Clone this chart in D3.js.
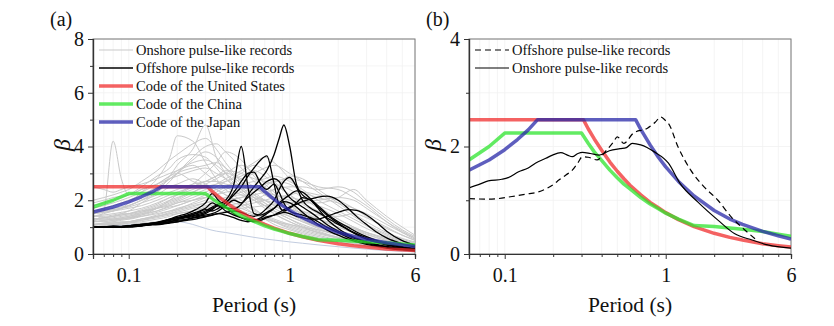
<!DOCTYPE html>
<html>
<head>
<meta charset="utf-8">
<script src="https://cdn.jsdelivr.net/npm/d3@7"></script>
<style>
  html, body { margin: 0; padding: 0; background: #fff; }
  svg { display: block; font-family: "Liberation Serif", "Times New Roman", serif; }
</style>
</head>
<body>
<svg id="chart" width="834" height="326"></svg>
<script>
// ---- tick values ----
const xMajorTicks = [0.1, 1, 6];
const xMinorTicks = [0.07, 0.08, 0.09, 0.2, 0.3, 0.4, 0.5, 0.6, 0.7, 0.8, 0.9, 2, 3, 4, 5];
const yMajorA = [0, 2, 4, 6, 8];
const yMinorA = [1, 3, 5, 7];
const yMajorB = [0, 2, 4];
const yMinorB = [1, 3];

// ---- code spectra ----
const usPeriods = [0.06, 0.308, 0.33, 0.36, 0.4, 0.45, 0.5, 0.55, 0.6, 0.7, 0.8, 0.9, 1, 1.2, 1.5, 2, 2.5, 3, 4, 5, 6];
const usValues = [2.5, 2.5, 2.33, 2.14, 1.93, 1.71, 1.54, 1.4, 1.28, 1.1, 0.96, 0.86, 0.77, 0.64, 0.51, 0.385, 0.31, 0.26, 0.19, 0.155, 0.13];
const cnPeriods = [0.06, 0.08, 0.1, 0.3, 0.33, 0.36, 0.4, 0.45, 0.5, 0.55, 0.6, 0.7, 0.8, 0.9, 1, 1.2, 1.5, 2, 3, 4, 5, 6];
const cnValues = [1.75, 2.0, 2.25, 2.25, 2.06, 1.9, 1.74, 1.56, 1.42, 1.3, 1.21, 1.05, 0.93, 0.84, 0.76, 0.65, 0.53, 0.51, 0.46, 0.42, 0.37, 0.33];
const jpPeriods = [0.06, 0.08, 0.1, 0.12, 0.14, 0.16, 0.65, 0.7, 0.8, 0.9, 1, 1.2, 1.5, 2, 2.5, 3, 4, 5, 6];
const jpValues = [1.56, 1.75, 1.94, 2.13, 2.31, 2.5, 2.5, 2.32, 2.03, 1.8, 1.62, 1.35, 1.08, 0.81, 0.65, 0.55, 0.42, 0.34, 0.28];

// ---- (a) offshore pulse-like records ----
const offPeriods = [0.06, 0.07, 0.08, 0.09, 0.1, 0.12, 0.14, 0.16, 0.18, 0.2, 0.23, 0.26, 0.3, 0.33, 0.36, 0.4, 0.45, 0.5, 0.55, 0.6, 0.66, 0.72, 0.8, 0.86, 0.92, 1.0, 1.1, 1.2, 1.35, 1.5, 1.7, 2, 2.3, 2.6, 3, 3.5, 4, 5, 6];
const offRecords = [
  [1.0, 1.0, 1.0, 1.02, 1.03, 1.08, 1.12, 1.2, 1.25, 1.3, 1.38, 1.45, 1.55, 1.7, 1.8, 1.72, 1.68, 1.85, 2.2, 2.5, 2.8, 3.1, 3.7, 4.3, 4.8, 4.0, 2.6, 2.2, 2.0, 1.75, 1.45, 1.15, 0.92, 0.76, 0.6, 0.45, 0.36, 0.25, 0.18],
  [1.0, 1.0, 1.02, 1.0, 1.05, 1.1, 1.15, 1.18, 1.25, 1.32, 1.4, 1.5, 1.6, 1.75, 1.85, 2.0, 2.6, 4.0, 2.5, 1.5, 1.45, 1.55, 1.7, 1.85, 1.95, 1.9, 1.75, 1.55, 1.3, 1.1, 0.9, 0.7, 0.55, 0.45, 0.36, 0.28, 0.22, 0.15, 0.11],
  [1.0, 1.02, 1.0, 1.03, 1.05, 1.08, 1.15, 1.2, 1.28, 1.35, 1.42, 1.5, 1.65, 1.6, 1.7, 1.9, 2.2, 2.5, 2.9, 3.2, 3.5, 3.65, 2.6, 1.8, 1.6, 1.7, 1.9, 2.1, 2.0, 1.7, 1.3, 0.95, 0.72, 0.58, 0.45, 0.35, 0.28, 0.2, 0.15],
  [1.0, 1.0, 1.05, 1.02, 1.05, 1.1, 1.12, 1.22, 1.3, 1.35, 1.45, 1.55, 1.7, 1.9, 1.8, 1.9, 2.3, 2.7, 3.0, 3.05, 2.6, 2.4, 2.6, 2.3, 1.9, 1.6, 1.5, 1.45, 1.35, 1.2, 1.0, 0.8, 0.62, 0.5, 0.4, 0.3, 0.24, 0.17, 0.13],
  [1.0, 1.0, 1.0, 1.0, 1.02, 1.05, 1.1, 1.15, 1.2, 1.25, 1.3, 1.38, 1.45, 1.5, 1.6, 1.8, 2.0, 1.9, 2.1, 2.3, 2.5, 2.7, 2.8, 2.7, 2.4, 2.1, 1.9, 1.75, 1.55, 1.35, 1.1, 0.85, 0.68, 0.55, 0.43, 0.33, 0.26, 0.18, 0.14],
  [1.0, 1.0, 1.0, 1.02, 1.0, 1.05, 1.1, 1.12, 1.18, 1.2, 1.28, 1.35, 1.4, 1.45, 1.5, 1.55, 1.6, 1.55, 1.45, 1.4, 1.5, 1.7, 2.0, 2.4, 2.7, 2.85, 2.5, 2.0, 1.7, 1.55, 1.35, 1.1, 0.9, 0.72, 0.55, 0.42, 0.33, 0.22, 0.16],
  [1.0, 1.0, 1.0, 1.0, 1.02, 1.05, 1.08, 1.1, 1.15, 1.2, 1.25, 1.3, 1.38, 1.45, 1.5, 1.45, 1.35, 1.25, 1.2, 1.25, 1.35, 1.5, 1.7, 1.9, 2.05, 2.2, 2.35, 2.3, 2.05, 1.8, 1.5, 1.2, 1.0, 0.82, 0.65, 0.5, 0.4, 0.27, 0.2],
  [1.0, 1.0, 1.02, 1.0, 1.05, 1.1, 1.15, 1.2, 1.3, 1.4, 1.5, 1.65, 1.9, 2.25, 2.0, 1.75, 1.5, 1.35, 1.25, 1.2, 1.25, 1.35, 1.45, 1.55, 1.65, 1.75, 1.85, 1.95, 2.05, 2.12, 2.15, 2.0, 1.7, 1.4, 1.1, 0.8, 0.6, 0.38, 0.26],
  [1.0, 1.0, 1.0, 1.02, 1.03, 1.06, 1.1, 1.15, 1.2, 1.28, 1.35, 1.42, 1.5, 1.65, 1.8, 1.6, 1.45, 1.35, 1.3, 1.28, 1.3, 1.38, 1.45, 1.5, 1.55, 1.5, 1.4, 1.35, 1.3, 1.3, 1.4, 1.55, 1.65, 1.62, 1.45, 1.15, 0.85, 0.5, 0.33]
];

// ---- (a) onshore pulse-like records ----
const onPeriods = [0.06, 0.07, 0.08, 0.09, 0.1, 0.12, 0.15, 0.18, 0.2, 0.25, 0.3, 0.35, 0.4, 0.5, 0.6, 0.7, 0.8, 1.0, 1.2, 1.5, 2, 2.5, 3, 4, 5, 6];
const onRecords = [
  [1.2, 1.6, 4.2, 2.8, 2.2, 2.4, 2.6, 2.9, 3.0, 2.7, 2.5, 2.2, 2.0, 1.8, 1.5, 1.3, 1.1, 0.9, 0.75, 0.6, 0.45, 0.35, 0.28, 0.2, 0.15, 0.12],
  [1.4, 1.5, 1.6, 1.7, 1.9, 2.3, 2.8, 3.6, 4.4, 4.2, 3.4, 2.8, 2.4, 2.0, 1.7, 1.4, 1.2, 0.95, 0.8, 0.65, 0.5, 0.4, 0.32, 0.22, 0.16, 0.12],
  [1.3, 1.35, 1.4, 1.5, 1.6, 1.9, 2.3, 2.9, 3.3, 3.9, 4.8, 3.6, 3.0, 2.4, 2.0, 1.7, 1.5, 1.2, 1.0, 0.8, 0.6, 0.45, 0.35, 0.25, 0.18, 0.14],
  [1.8, 1.9, 2.0, 2.1, 2.2, 2.5, 2.9, 3.2, 3.5, 3.7, 3.6, 3.2, 2.8, 2.3, 2.0, 1.8, 1.6, 1.3, 1.1, 0.9, 0.7, 0.55, 0.45, 0.3, 0.22, 0.17],
  [1.1, 1.15, 1.2, 1.25, 1.3, 1.45, 1.7, 2.0, 2.2, 2.6, 3.0, 3.4, 3.8, 3.5, 2.9, 2.5, 2.2, 1.8, 1.5, 1.2, 0.9, 0.7, 0.55, 0.38, 0.28, 0.22],
  [1.5, 1.6, 1.65, 1.7, 1.75, 1.9, 2.1, 2.3, 2.4, 2.6, 2.7, 2.9, 3.1, 3.0, 2.8, 2.7, 2.6, 2.4, 2.1, 1.7, 1.3, 1.0, 0.8, 0.55, 0.4, 0.3],
  [1.0, 1.05, 1.1, 1.1, 1.15, 1.25, 1.4, 1.55, 1.65, 1.9, 2.1, 2.3, 2.5, 2.8, 3.0, 3.2, 3.3, 3.0, 2.7, 2.3, 1.8, 1.4, 1.1, 0.75, 0.55, 0.42],
  [2.5, 2.4, 2.3, 2.4, 2.5, 2.6, 2.8, 3.0, 3.1, 3.3, 3.0, 2.7, 2.5, 2.2, 2.0, 1.8, 1.6, 1.4, 1.2, 1.0, 0.75, 0.6, 0.48, 0.33, 0.25, 0.2],
  [1.2, 1.25, 1.3, 1.35, 1.4, 1.5, 1.6, 1.75, 1.8, 2.0, 2.1, 2.2, 2.3, 2.4, 2.5, 2.6, 2.7, 2.8, 2.7, 2.5, 2.4, 2.1, 1.8, 1.2, 0.8, 0.55],
  [1.1, 1.1, 1.15, 1.2, 1.2, 1.3, 1.4, 1.5, 1.55, 1.7, 1.8, 1.9, 2.0, 2.1, 2.2, 2.3, 2.4, 2.5, 2.5, 2.4, 2.5, 2.3, 1.9, 1.3, 0.9, 0.65],
  [1.6, 1.7, 1.8, 1.9, 2.0, 2.2, 2.5, 2.8, 3.0, 3.2, 3.3, 3.4, 3.2, 2.7, 2.3, 2.0, 1.8, 1.5, 1.3, 1.1, 0.85, 0.65, 0.5, 0.35, 0.26, 0.2],
  [1.3, 1.35, 1.4, 1.45, 1.5, 1.6, 1.8, 2.0, 2.1, 2.3, 2.5, 2.6, 2.7, 2.9, 3.1, 2.9, 2.6, 2.2, 1.9, 1.6, 1.2, 0.95, 0.75, 0.5, 0.36, 0.28],
  [1.0, 1.0, 1.05, 1.05, 1.1, 1.15, 1.2, 1.3, 1.35, 1.45, 1.55, 1.65, 1.7, 1.8, 1.9, 2.0, 2.1, 2.2, 2.3, 2.2, 2.0, 1.7, 1.4, 1.0, 0.7, 0.5],
  [1.7, 1.8, 1.9, 2.0, 2.1, 2.3, 2.6, 2.9, 3.1, 3.4, 3.5, 3.3, 3.0, 2.5, 2.1, 1.8, 1.5, 1.2, 1.0, 0.8, 0.6, 0.45, 0.36, 0.25, 0.18, 0.14],
  [1.4, 1.45, 1.5, 1.55, 1.6, 1.7, 1.9, 2.1, 2.2, 2.4, 2.6, 2.8, 3.0, 3.3, 3.0, 2.6, 2.3, 1.9, 1.6, 1.3, 1.0, 0.8, 0.62, 0.42, 0.3, 0.24],
  [1.2, 1.2, 1.25, 1.3, 1.3, 1.4, 1.55, 1.7, 1.8, 2.0, 2.2, 2.4, 2.5, 2.6, 2.7, 2.8, 2.9, 2.7, 2.4, 2.0, 1.6, 1.3, 1.05, 0.7, 0.5, 0.4],
  [1.9, 2.0, 2.1, 2.15, 2.2, 2.4, 2.6, 2.8, 2.9, 3.1, 3.2, 3.0, 2.8, 2.4, 2.1, 1.9, 1.7, 1.4, 1.2, 0.95, 0.7, 0.55, 0.45, 0.3, 0.22, 0.18],
  [1.1, 1.1, 1.15, 1.15, 1.2, 1.3, 1.4, 1.5, 1.6, 1.75, 1.9, 2.0, 2.1, 2.3, 2.4, 2.3, 2.2, 2.0, 1.9, 1.9, 2.1, 2.4, 2.0, 1.4, 1.0, 0.7],
  [1.3, 1.3, 1.35, 1.4, 1.45, 1.55, 1.7, 1.85, 1.95, 2.2, 2.4, 2.6, 2.8, 3.1, 3.4, 3.6, 3.4, 2.8, 2.3, 1.8, 1.3, 1.0, 0.8, 0.55, 0.4, 0.3],
  [1.5, 1.55, 1.6, 1.65, 1.7, 1.8, 2.0, 2.2, 2.3, 2.5, 2.7, 2.7, 2.6, 2.5, 2.4, 2.3, 2.2, 2.1, 2.0, 1.8, 1.5, 1.2, 0.95, 0.65, 0.48, 0.38],
  [1.0, 1.0, 1.0, 1.05, 1.05, 1.1, 1.15, 1.2, 1.25, 1.3, 1.4, 1.5, 1.6, 1.7, 1.75, 1.8, 1.85, 1.9, 1.95, 2.0, 2.1, 2.0, 1.7, 1.2, 0.85, 0.6],
  [1.2, 1.25, 1.3, 1.3, 1.35, 1.4, 1.5, 1.6, 1.65, 1.8, 1.9, 2.0, 2.1, 2.2, 2.1, 2.0, 1.9, 1.7, 1.5, 1.3, 1.0, 0.8, 0.65, 0.45, 0.33, 0.26],
  [2.0, 2.1, 2.2, 2.3, 2.4, 2.7, 3.1, 3.5, 3.7, 4.1, 4.3, 3.9, 3.4, 2.7, 2.2, 1.9, 1.6, 1.3, 1.05, 0.85, 0.62, 0.48, 0.38, 0.26, 0.19, 0.15],
  [1.0, 1.02, 1.05, 1.05, 1.08, 1.1, 1.15, 1.2, 1.2, 1.1, 0.95, 0.85, 0.8, 0.7, 0.62, 0.56, 0.52, 0.45, 0.4, 0.34, 0.27, 0.22, 0.18, 0.13, 0.1, 0.08],
  [1.6, 1.65, 1.7, 1.75, 1.8, 2.0, 2.3, 2.7, 3.0, 3.6, 4.0, 4.1, 3.8, 3.2, 2.7, 2.3, 2.0, 1.6, 1.3, 1.05, 0.8, 0.62, 0.5, 0.34, 0.25, 0.2],
  [1.1, 1.12, 1.15, 1.18, 1.2, 1.25, 1.35, 1.45, 1.5, 1.6, 1.7, 1.75, 1.8, 1.9, 2.0, 2.2, 2.4, 2.9, 2.8, 2.4, 1.9, 1.5, 1.2, 0.8, 0.58, 0.45],
  [1.3, 1.35, 1.4, 1.45, 1.5, 1.65, 1.85, 2.1, 2.2, 2.5, 2.7, 2.9, 3.0, 2.8, 2.5, 2.2, 2.0, 1.7, 1.5, 1.3, 1.1, 0.95, 0.8, 0.6, 0.45, 0.35],
  [1.4, 1.4, 1.45, 1.5, 1.5, 1.6, 1.7, 1.8, 1.9, 2.0, 2.1, 2.0, 1.9, 1.7, 1.5, 1.35, 1.2, 1.0, 0.85, 0.7, 0.52, 0.4, 0.32, 0.22, 0.16, 0.13],
  [1.2, 1.22, 1.25, 1.3, 1.35, 1.45, 1.6, 1.8, 1.9, 2.1, 2.3, 2.5, 2.7, 3.0, 3.3, 3.1, 2.7, 2.2, 1.85, 1.5, 1.15, 0.9, 0.72, 0.5, 0.36, 0.28],
  [1.5, 1.55, 1.6, 1.7, 1.8, 2.0, 2.4, 2.8, 3.0, 3.5, 3.8, 3.6, 3.2, 2.6, 2.2, 2.0, 1.8, 1.5, 1.25, 1.0, 0.75, 0.58, 0.46, 0.32, 0.24, 0.19],
  [1.1, 1.15, 1.2, 1.3, 1.35, 1.5, 1.7, 1.9, 2.0, 2.3, 2.5, 2.4, 2.2, 1.9, 1.6, 1.4, 1.25, 1.05, 0.9, 0.75, 0.58, 0.46, 0.37, 0.26, 0.19, 0.15],
  [1.0, 1.05, 1.1, 1.12, 1.15, 1.2, 1.3, 1.4, 1.5, 1.6, 1.75, 1.85, 1.95, 2.1, 2.3, 2.5, 2.7, 2.6, 2.3, 2.1, 1.9, 1.7, 1.5, 1.1, 0.8, 0.6],
  [1.25, 1.3, 1.3, 1.35, 1.4, 1.55, 1.75, 1.95, 2.05, 2.3, 2.2, 2.0, 1.85, 1.6, 1.45, 1.3, 1.2, 1.1, 1.0, 0.9, 0.75, 0.6, 0.48, 0.33, 0.24, 0.19],
  [1.05, 1.1, 1.1, 1.15, 1.2, 1.3, 1.45, 1.6, 1.7, 1.85, 2.0, 2.2, 2.4, 2.6, 2.5, 2.3, 2.1, 1.8, 1.6, 1.45, 1.4, 1.5, 1.35, 0.95, 0.7, 0.52],
  [1.6, 1.6, 1.65, 1.7, 1.8, 2.0, 2.2, 2.5, 2.6, 2.8, 2.6, 2.4, 2.2, 1.9, 1.65, 1.45, 1.3, 1.1, 0.95, 0.8, 0.62, 0.5, 0.4, 0.28, 0.21, 0.17]
];

// ---- (b) mean spectra ----
const offMeanPeriods = [0.06, 0.079, 0.09, 0.111, 0.14, 0.16, 0.18, 0.2, 0.218, 0.24, 0.263, 0.285, 0.304, 0.33, 0.374, 0.42, 0.475, 0.5, 0.55, 0.63, 0.77, 0.86, 0.93, 1.0, 1.04, 1.19, 1.43, 1.73, 2.11, 2.55, 3.09, 3.6];
const offMeanValues = [1.03, 1.02, 1.03, 1.07, 1.12, 1.15, 1.21, 1.29, 1.38, 1.47, 1.56, 1.7, 1.81, 1.8, 1.75, 1.9, 2.09, 2.18, 2.06, 2.25, 2.34, 2.45, 2.55, 2.48, 2.43, 2.0, 1.56, 1.25, 1.0, 0.69, 0.45, 0.28];
const onMeanPeriods = [0.06, 0.07, 0.079, 0.096, 0.105, 0.122, 0.14, 0.155, 0.18, 0.198, 0.223, 0.245, 0.263, 0.285, 0.304, 0.34, 0.386, 0.447, 0.52, 0.57, 0.62, 0.7, 0.85, 1.04, 1.23, 1.58, 2.11, 2.67, 3.44, 4.3, 6];
const onMeanValues = [1.23, 1.3, 1.36, 1.39, 1.42, 1.53, 1.6, 1.69, 1.78, 1.84, 1.885, 1.84, 1.81, 1.87, 1.89, 1.87, 1.84, 1.92, 1.96, 1.98, 2.06, 2.03, 1.9, 1.69, 1.31, 0.97, 0.63, 0.38, 0.26, 0.17, 0.11];

const usColor = 'rgba(240,45,45,0.75)';
const cnColor = 'rgba(45,228,45,0.75)';
const jpColor = 'rgba(40,40,168,0.75)';

const svg = d3.select('#chart');

function zip(ps, vs) {
  return vs.map((v, i) => [ps[i], v]).filter((d) => d[0] != null);
}

function panel(cfg) {
  const x = d3.scaleLog().domain([0.06, 6]).range([cfg.left, cfg.right]);
  const y = d3.scaleLinear().domain([0, cfg.yMax]).range([254, 39]);
  const g = svg.append('g');
  const clipId = 'clip-' + cfg.id;
  svg.append('clipPath').attr('id', clipId).append('rect')
    .attr('x', cfg.left).attr('y', 39).attr('width', cfg.right - cfg.left).attr('height', 215);

  // faint grid
  const grid = g.append('g').attr('stroke', '#f1f1f1').attr('stroke-width', 0.8);
  grid.selectAll('.gx').data(xMajorTicks.concat(xMinorTicks)).join('line')
    .attr('x1', (d) => x(d)).attr('x2', (d) => x(d)).attr('y1', 39).attr('y2', 254);
  grid.selectAll('.gy').data(cfg.yMajor.concat(cfg.yMinor)).join('line')
    .attr('x1', cfg.left).attr('x2', cfg.right).attr('y1', (d) => y(d)).attr('y2', (d) => y(d));

  // frame
  g.append('rect').attr('x', cfg.left).attr('y', 39).attr('width', cfg.right - cfg.left).attr('height', 215)
    .attr('fill', 'none').attr('stroke', '#777').attr('stroke-width', 1);

  const plot = g.append('g').attr('clip-path', `url(#${clipId})`);
  const line = d3.line().x((d) => x(d[0])).y((d) => y(d[1]));

  // axes
  g.append('g').attr('transform', `translate(${cfg.left},0)`)
    .call(d3.axisLeft(y).tickValues(cfg.yMajor).tickSize(5).tickPadding(4).tickFormat(d3.format('d')));
  g.append('g').attr('transform', `translate(${cfg.left},0)`)
    .call(d3.axisLeft(y).tickValues(cfg.yMinor).tickSize(3).tickFormat(''));
  g.append('g').attr('transform', 'translate(0,254)')
    .call(d3.axisBottom(x).tickValues(xMajorTicks).tickSize(5).tickPadding(9).tickFormat((d) => String(d)));
  g.append('g').attr('transform', 'translate(0,254)')
    .call(d3.axisBottom(x).tickValues(xMinorTicks).tickSize(3).tickFormat(''));
  g.selectAll('.domain').attr('stroke', '#333').attr('stroke-width', 1.2);
  g.selectAll('.tick line').attr('stroke', '#333');
  g.selectAll('.tick text').attr('font-family', '"Liberation Serif", serif').attr('font-size', 20).attr('fill', '#111');

  // labels
  g.append('text').attr('x', cfg.tagX).attr('y', 26).attr('font-size', 20).attr('fill', '#111').text(cfg.tag);
  g.append('text').attr('transform', `translate(${cfg.betaX},145) rotate(-90)`)
    .attr('text-anchor', 'middle').attr('font-size', 24).attr('font-style', 'italic').attr('fill', '#111').text('β');
  g.append('text').attr('x', (cfg.left + cfg.right) / 2).attr('y', 312).attr('text-anchor', 'middle')
    .attr('font-size', 21.5).attr('fill', '#111').text('Period (s)');

  return { x, y, g, plot, line };
}

function legend(g, x0, rows) {
  rows.forEach((r, i) => {
    const yy = 50 + i * 18;
    g.append('line').attr('x1', x0).attr('x2', x0 + 34).attr('y1', yy).attr('y2', yy)
      .attr('stroke', r.color).attr('stroke-width', r.width).attr('stroke-dasharray', r.dash || null);
    g.append('text').attr('x', x0 + 37).attr('y', yy + 5).attr('font-size', 14.5).attr('fill', '#111').text(r.label);
  });
}

function drawCodes(p) {
  [[usPeriods, usValues, usColor], [cnPeriods, cnValues, cnColor], [jpPeriods, jpValues, jpColor]].forEach((c) => {
    p.plot.append('path').datum(zip(c[0], c[1])).attr('d', p.line)
      .attr('fill', 'none').attr('stroke', c[2]).attr('stroke-width', 3.5).attr('stroke-linejoin', 'round');
  });
}

// ---- panel (a) ----
const a = panel({ id: 'a', left: 93, right: 415, yMax: 8, yMajor: yMajorA, yMinor: yMinorA, tag: '(a)', tagX: 50, betaX: 70 });
const smooth = d3.line().x((d) => a.x(d[0])).y((d) => a.y(d[1])).curve(d3.curveMonotoneX);
a.plot.append('g').selectAll('path').data(onRecords).join('path')
  .attr('d', (d) => smooth(zip(onPeriods, d)))
  .attr('fill', 'none').attr('stroke', (d, i) => i === 23 ? '#c3cde0' : '#c9c9c9').attr('stroke-width', 1);
a.plot.append('g').selectAll('path').data(offRecords).join('path')
  .attr('d', (d) => smooth(zip(offPeriods, d)))
  .attr('fill', 'none').attr('stroke', '#000').attr('stroke-width', 1.3);
drawCodes(a);
legend(a.g, 99, [
  { label: 'Onshore pulse-like records', color: '#c9c9c9', width: 1 },
  { label: 'Offshore pulse-like records', color: '#000', width: 1.3 },
  { label: 'Code of the United States', color: usColor, width: 3.5 },
  { label: 'Code of the China', color: cnColor, width: 3.5 },
  { label: 'Code of the Japan', color: jpColor, width: 3.5 }
]);

// ---- panel (b) ----
const b = panel({ id: 'b', left: 469, right: 791, yMax: 4, yMajor: yMajorB, yMinor: yMinorB, tag: '(b)', tagX: 426, betaX: 441 });
drawCodes(b);
const smoothB = d3.line().x((d) => b.x(d[0])).y((d) => b.y(d[1])).curve(d3.curveMonotoneX);
b.plot.append('path').datum(zip(offMeanPeriods, offMeanValues)).attr('d', smoothB)
  .attr('fill', 'none').attr('stroke', '#000').attr('stroke-width', 1.2).attr('stroke-dasharray', '6,4');
b.plot.append('path').datum(zip(onMeanPeriods, onMeanValues)).attr('d', smoothB)
  .attr('fill', 'none').attr('stroke', '#000').attr('stroke-width', 1.2);
legend(b.g, 475, [
  { label: 'Offshore pulse-like records', color: '#000', width: 1.2, dash: '6,4' },
  { label: 'Onshore pulse-like records', color: '#000', width: 1.2 }
]);
</script>
</body>
</html>
